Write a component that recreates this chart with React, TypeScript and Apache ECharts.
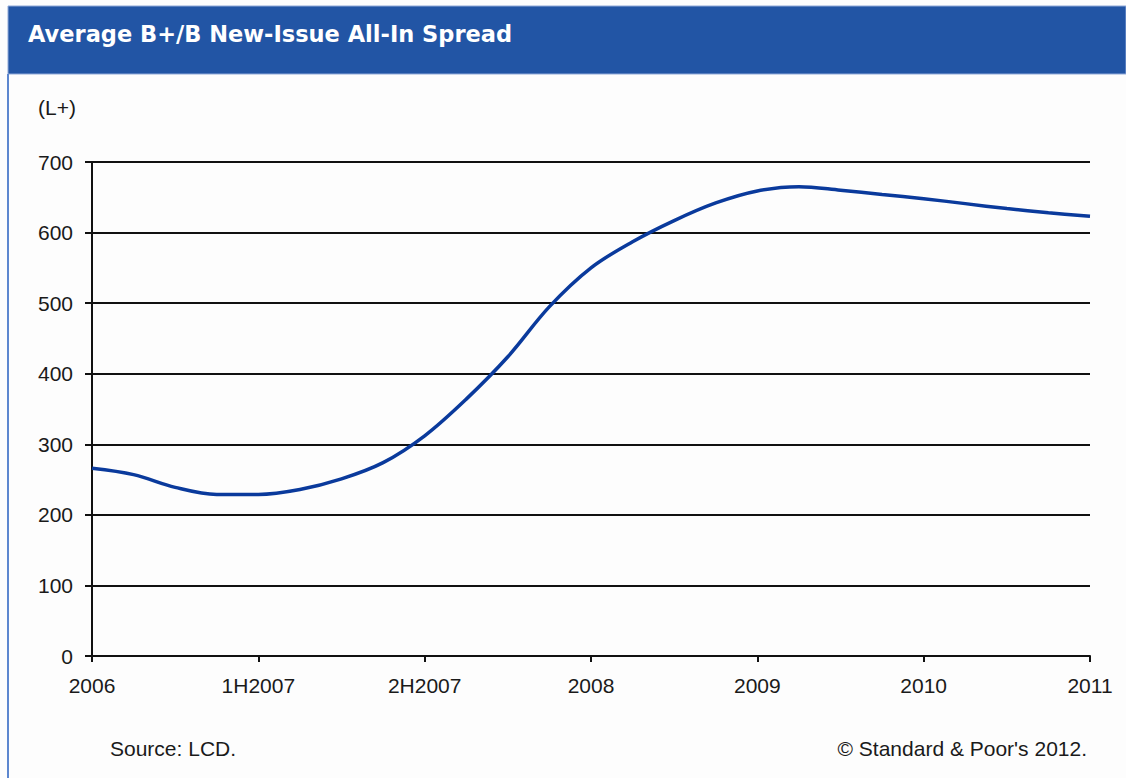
import React, { useEffect, useRef } from "react";
import * as echarts from "echarts";

const titleText = "Average B+/B New-Issue All-In Spread";
const unitLabel = "(L+)";
const sourceText = "Source: LCD.";
const copyrightText = "© Standard & Poor's 2012.";

// x tick labels (one per axis unit)
const xTickLabels = ["2006", "1H2007", "2H2007", "2008", "2009", "2010", "2011"];
// y ticks
const yMin = 0;
const yMax = 700;
const yStep = 100;
// spread sampled every quarter of an axis interval
const samplesPerInterval = 4;
const spreadValues = [
  266, 257, 239, 229, 229, 236, 251, 274, 312, 364, 424, 495, 550, 587, 617,
  642, 659, 665, 660, 654, 648, 641, 634, 628, 623,
];

const FONT = "'Liberation Sans', Arial, sans-serif";

export default function App() {
  const ref = useRef<HTMLDivElement>(null);

  useEffect(() => {
    if (!ref.current) return;
    const chart = echarts.init(ref.current, undefined, { renderer: "svg" });
    const data = spreadValues.map((v, i) => [i / samplesPerInterval, v]);
    chart.setOption({
      animation: false,
      backgroundColor: "#fdfdfd",
      textStyle: { fontFamily: FONT },
      grid: { left: 92, right: 36, top: 162, bottom: 122, containLabel: false },
      xAxis: {
        type: "value",
        min: 0,
        max: xTickLabels.length - 1,
        interval: 1,
        axisLine: { show: true, lineStyle: { color: "#111111", width: 2 } },
        axisTick: { show: true, length: 6, lineStyle: { color: "#111111", width: 2 } },
        splitLine: { show: false },
        axisLabel: {
          margin: 19,
          color: "#1a1a1a",
          fontSize: 21,
          fontFamily: FONT,
          formatter: (v: number) => xTickLabels[Math.round(v)] ?? "",
        },
      },
      yAxis: {
        type: "value",
        min: yMin,
        max: yMax,
        interval: yStep,
        axisLine: { show: true, lineStyle: { color: "#111111", width: 2 } },
        axisTick: { show: true, length: 7, lineStyle: { color: "#111111", width: 2 } },
        splitLine: { show: true, lineStyle: { color: "#111111", width: 1.8 } },
        axisLabel: {
          margin: 19,
          color: "#1a1a1a",
          fontSize: 21,
          fontFamily: FONT,
        },
      },
      series: [
        {
          type: "line",
          data,
          smooth: 0.35,
          showSymbol: false,
          lineStyle: { color: "#0a3a9c", width: 3.5 },
          z: 5,
        },
      ],
      graphic: [
        {
          type: "rect",
          shape: { x: 8, y: 6, width: 1118, height: 68 },
          style: { fill: "#2255a5", stroke: "#8fa9d8", lineWidth: 1 },
          z: 10,
        },
        {
          type: "line",
          shape: { x1: 8, y1: 74, x2: 8, y2: 778 },
          style: { stroke: "#5d87cf", lineWidth: 2 },
          z: 10,
        },
        {
          type: "text",
          x: 28,
          y: 34,
          style: {
            text: titleText,
            fill: "#ffffff",
            font: "bold 22.5px 'DejaVu Sans', sans-serif",
            verticalAlign: "middle",
            align: "left",
          },
          z: 11,
        },
        {
          type: "text",
          x: 38,
          y: 107,
          style: {
            text: unitLabel,
            fill: "#1a1a1a",
            font: `21px ${FONT}`,
            verticalAlign: "middle",
            align: "left",
          },
        },
        {
          type: "text",
          x: 110,
          y: 748,
          style: {
            text: sourceText,
            fill: "#1a1a1a",
            font: `21px ${FONT}`,
            verticalAlign: "middle",
            align: "left",
          },
        },
        {
          type: "text",
          x: 1087,
          y: 748,
          style: {
            text: copyrightText,
            fill: "#1a1a1a",
            font: `21px ${FONT}`,
            verticalAlign: "middle",
            align: "right",
          },
        },
      ],
    });
    return () => chart.dispose();
  }, []);

  return (
    <div
      ref={ref}
      style={{ position: "fixed", left: 0, top: 0, width: 1126, height: 778 }}
    />
  );
}
